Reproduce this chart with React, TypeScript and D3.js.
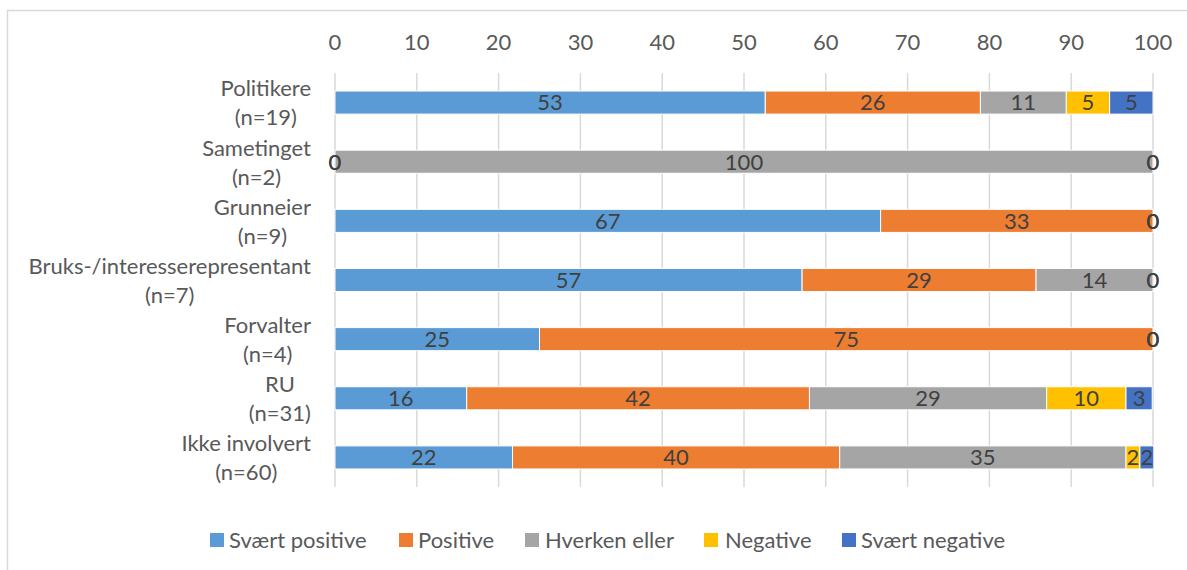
import React, { useEffect, useRef } from "react";
import * as d3 from "d3";

const categories = [
  ["Politikere", "(n=19)"],
  ["Sametinget", "(n=2)"],
  ["Grunneier", "(n=9)"],
  ["Bruks-/interesserepresentant", "(n=7)"],
  ["Forvalter", "(n=4)"],
  ["RU", "(n=31)"],
  ["Ikke involvert", "(n=60)"],
];
const seriesNames = ["Svært positive", "Positive", "Hverken eller", "Negative", "Svært negative"];
const seriesColors = ["#5B9BD5", "#ED7D31", "#A5A5A5", "#FFC000", "#4472C4"];
const svaertPositive = [52.6, 0, 66.7, 57.1, 25, 16.1, 21.7];
const positive = [26.3, 0, 33.3, 28.6, 75, 41.9, 40.0];
const hverkenEller = [10.5, 100, 0, 14.3, 0, 29.0, 35.0];
const negative = [5.3, 0, 0, 0, 0, 9.7, 1.7];
const svaertNegative = [5.3, 0, 0, 0, 0, 3.2, 1.7];
const xTicks = [0, 10, 20, 30, 40, 50, 60, 70, 80, 90, 100];

const seriesValues = [svaertPositive, positive, hverkenEller, negative, svaertNegative];
const FONT = "Lato, 'Open Sans', sans-serif";
const FS = 22;

export default function App() {
  const ref = useRef<SVGSVGElement>(null);
  useEffect(() => {
    const svg = d3.select(ref.current);
    svg.selectAll("*").remove();
    const W = 1187, H = 570;
    svg.append("rect").attr("x", 7.5).attr("y", 10.5).attr("width", W + 10).attr("height", H + 10)
      .attr("fill", "white").attr("stroke", "#D9D9D9").attr("stroke-width", 1.5);

    const x = d3.scaleLinear().domain([0, 100]).range([335, 1153]);
    const y = d3.scaleBand().domain(categories.map((c) => c[0])).range([73, 487]).paddingInner(0.61).paddingOuter(0.305);

    const g = svg.append("g");
    g.selectAll("line.grid").data(xTicks).enter().append("line")
      .attr("x1", (d) => x(d)).attr("x2", (d) => x(d)).attr("y1", 73).attr("y2", 487)
      .attr("stroke", "#D9D9D9").attr("stroke-width", 1.5);
    g.selectAll("text.tick").data(xTicks).enter().append("text")
      .attr("x", (d) => x(d)).attr("y", 42).attr("dy", "0.36em").attr("text-anchor", "middle")
      .attr("font-family", FONT).attr("font-size", FS).attr("fill", "#595959").text((d) => String(d));

    const rows = categories.map((c, i) => {
      let acc = 0;
      return seriesValues.map((vals, s) => {
        const v = vals[i];
        const seg = { cat: c[0], s, x0: acc, x1: acc + v, v };
        acc += v;
        return seg;
      });
    });
    const segs = rows.flat();
    g.selectAll("rect.seg").data(segs).enter().append("rect")
      .attr("x", (d) => x(d.x0)).attr("width", (d) => Math.max(0, x(d.x1) - x(d.x0)))
      .attr("y", (d) => y(d.cat)!).attr("height", y.bandwidth())
      .attr("fill", (d) => seriesColors[d.s]).attr("stroke", "white").attr("stroke-width", 1)
      .attr("display", (d) => (d.v > 0 ? null : "none"));
    g.selectAll("text.lbl").data(segs).enter().append("text")
      .attr("x", (d) => x((d.x0 + d.x1) / 2)).attr("y", (d) => y(d.cat)! + y.bandwidth() / 2)
      .attr("dy", "0.36em").attr("text-anchor", "middle")
      .attr("font-family", FONT).attr("font-size", FS).attr("fill", "#404040")
      .text((d) => String(Math.round(d.v)));

    categories.forEach((c) => {
      const cy = y(c[0])! + y.bandwidth() / 2;
      const t = g.append("text").attr("font-family", FONT).attr("font-size", FS).attr("fill", "#595959")
        .attr("text-anchor", "middle");
      const spans = c.map((line, k) => t.append("tspan").attr("y", cy + (k === 0 ? -14 : 15)).attr("dy", "0.36em").text(line));
      let maxW = 0;
      spans.forEach((sp) => { maxW = Math.max(maxW, (sp.node() as SVGTextContentElement).getComputedTextLength()); });
      spans.forEach((sp) => sp.attr("x", 311 - maxW / 2));
    });

    const squareX = [210, 399, 525, 704, 842];
    const textX = [229, 418, 545, 725, 861];
    seriesNames.forEach((name, i) => {
      g.append("rect").attr("x", squareX[i]).attr("y", 533).attr("width", 14).attr("height", 14).attr("fill", seriesColors[i]);
      g.append("text").attr("x", textX[i]).attr("y", 540).attr("dy", "0.36em").attr("font-family", FONT)
        .attr("font-size", FS).attr("fill", "#595959").text(name);
    });
  }, []);
  return (
    <svg ref={ref} width={1187} height={570}
      style={{ position: "absolute", left: 0, top: 0, display: "block", background: "white" }} />
  );
}
